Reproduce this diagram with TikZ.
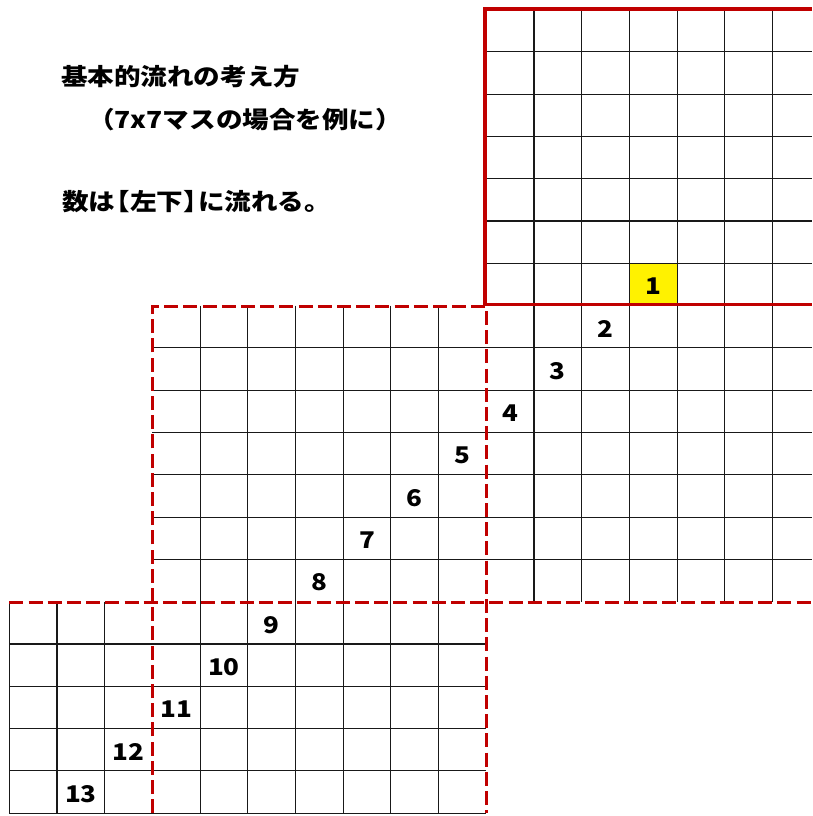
\documentclass[tikz,border=0pt]{standalone}
\usepackage{fontspec}
\newfontfamily\jp{Noto Sans CJK JP}[FakeStretch=1.13]
\definecolor{bred}{HTML}{C00000}
\begin{document}
\begin{tikzpicture}[x=1pt,y=-1pt,
  grid/.style={black!90,line width=1.1pt},
  redsolid/.style={bred,line width=3.5pt},
  reddash/.style={bred,line width=3.5pt,dash pattern=on 14pt off 5.2pt},
  num/.style={font=\jp\bfseries\fontsize{23}{23}\selectfont,inner sep=0pt},
  title/.style={font=\jp\bfseries\fontsize{23.5}{23.5}\selectfont,inner sep=0pt,anchor=base west}]
\useasboundingbox (0,0) rectangle (812,816);
\clip (0,0) rectangle (812,816);
\def\cw{47.7}\def\rh{42.3}\def\xo{9.3}\def\yo{9.5}
% yellow start cell
\fill[yellow] ({\xo+\cw*13},{\yo+\rh*6}) rectangle ({\xo+\cw*14},{\yo+\rh*7});
% right region
\foreach \i in {11,...,16} \draw[grid] ({\xo+\cw*\i},\yo) -- ({\xo+\cw*\i},{\yo+\rh*14});
\foreach \j in {1,...,6} \draw[grid] ({\xo+\cw*10},{\yo+\rh*\j}) -- (812,{\yo+\rh*\j});
% middle region
\foreach \j in {8,...,13} \draw[grid] ({\xo+\cw*3},{\yo+\rh*\j}) -- (812,{\yo+\rh*\j});
\foreach \i in {4,...,9} \draw[grid] ({\xo+\cw*\i},{\yo+\rh*7}) -- ({\xo+\cw*\i},{\yo+\rh*19});
% bottom region
\foreach \i in {0,1,2} \draw[grid] ({\xo+\cw*\i},{\yo+\rh*14}) -- ({\xo+\cw*\i},{\yo+\rh*19});
\foreach \j in {15,...,19} \draw[grid] (\xo,{\yo+\rh*\j}) -- ({\xo+\cw*10},{\yo+\rh*\j});
% red borders
\draw[redsolid] (812,9) -- (485,9) -- (485,304.3) -- (812,304.3);
\draw[reddash] (152.3,813.2) -- (152.3,306.7) -- (486.3,306.7) -- (486.3,813.2);
\draw[reddash] (9.3,602.3) -- (812,602.3);
% numbers
\foreach \k in {1,...,13}
  \node[num] (n\k) at ({\xo+\cw*(14-\k)+\cw/2},{\yo+\rh*(5+\k)+\rh/2+2}) {\k};
% texts
\node[title] (t1) at (61,85.5) {基本的流れの考え方};
\node[title] (t2) at (88,128.5) {（7x7マスの場合を例に）};
\node[title] (t3) at (62,210) {数は\kern-0.5em【左下】\kern-0.5emに流れる。};
\end{tikzpicture}
\end{document}
